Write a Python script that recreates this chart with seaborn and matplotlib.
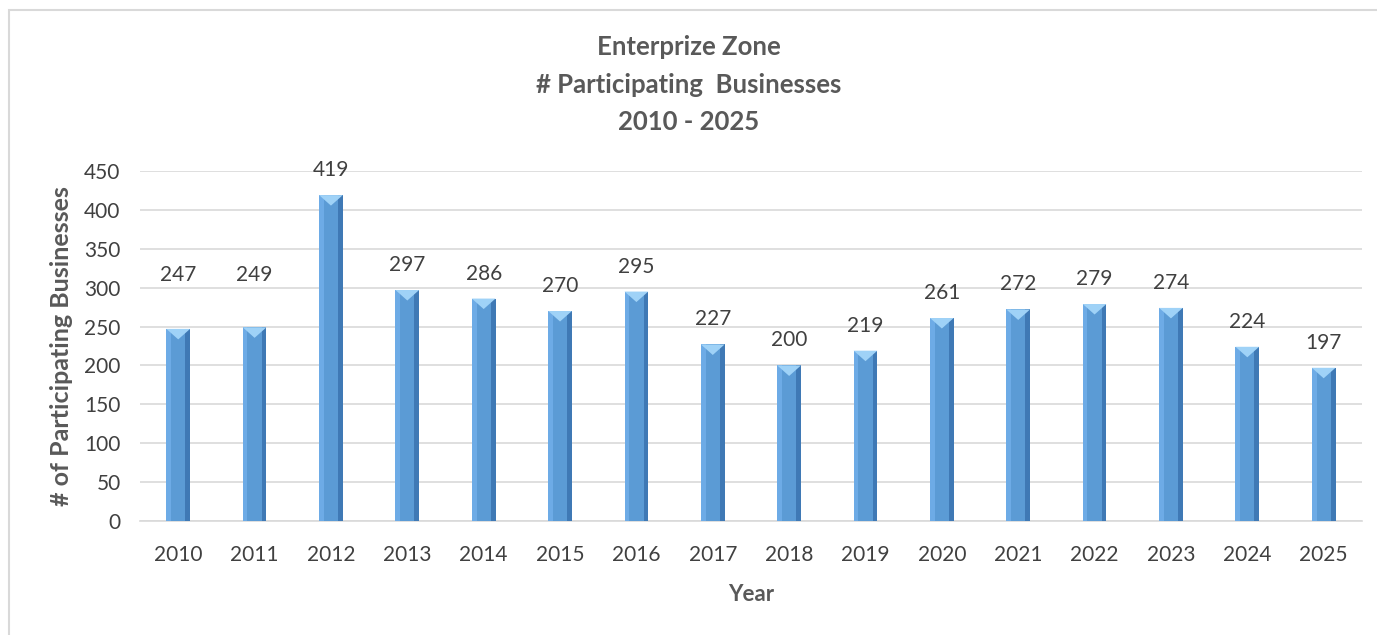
import matplotlib
matplotlib.use("Agg")
import matplotlib.pyplot as plt
import seaborn as sns
import pandas as pd
from matplotlib.patches import Rectangle, Polygon

years = ["2010", "2011", "2012", "2013", "2014", "2015", "2016", "2017",
         "2018", "2019", "2020", "2021", "2022", "2023", "2024", "2025"]
counts = [247, 249, 419, 297, 286, 270, 295, 227, 200, 219, 261, 272, 279, 274, 224, 197]
yticks = [0, 50, 100, 150, 200, 250, 300, 350, 400, 450]

sns.set_theme(style="white")
plt.rcParams['font.family'] = ['Lato', 'DejaVu Sans']

df = pd.DataFrame({"Year": years, "Count": counts})

fig = plt.figure(figsize=(13.77, 6.35), dpi=100)
ax = fig.add_axes([0.1017, 0.1795, 0.8873, 0.5512])

sns.barplot(data=df, x="Year", y="Count", ax=ax, color="#5B9BD5",
            width=0.31, saturation=1, linewidth=0, zorder=3)

ax.set_ylim(0, 450)
ax.set_yticks(yticks)
ax.set_xlim(-0.5, len(years) - 0.5)
ax.grid(axis="y", color="#d9d9d9", linewidth=1.2, zorder=0)
ax.set_axisbelow(True)
for s in ["top", "right", "left"]:
    ax.spines[s].set_visible(False)
ax.spines["bottom"].set_color("#d9d9d9")
ax.spines["bottom"].set_linewidth(1.2)
ax.tick_params(axis="both", length=0, labelsize=15, colors="#404040")
ax.tick_params(axis="y", pad=14)
ax.tick_params(axis="x", pad=17)

ax.set_xlabel("Year", fontsize=16, fontweight="bold", color="#595959", labelpad=14)
ax.set_ylabel("# of Participating Businesses", fontsize=18, fontweight="bold",
              color="#595959", labelpad=8)

# label centre offsets above bar tops (pixels); 2010/2011 labels sit higher
label_offset_px = {"2010": 54, "2011": 52}

for p, yr, v in zip(ax.patches, years, counts):
    x0 = p.get_x(); w = p.get_width(); h = p.get_height()
    ax.add_patch(Rectangle((x0, 0), w * 0.2, h, facecolor="#6DABE6", linewidth=0, zorder=4))
    ax.add_patch(Rectangle((x0 + w * 0.8, 0), w * 0.2, h, facecolor="#3F79B5", linewidth=0, zorder=4))
    tri_h = 450 * 0.03
    ax.add_patch(Polygon([(x0, h), (x0 + w, h), (x0 + w / 2, h - tri_h)], closed=True,
                         facecolor="#9FD2F7", linewidth=0, zorder=5))
    off = label_offset_px.get(yr, 25) * 0.72
    ax.annotate(str(v), (x0 + w / 2, h), xytext=(0, off), textcoords="offset points",
                ha="center", va="center", fontsize=15, color="#404040")

title_lines = ["Enterprize Zone", "# Participating  Businesses", "2010 - 2025"]
for line, ypx in zip(title_lines, [47, 85, 122]):
    fig.text(0.5, 1 - ypx / 635, line, ha="center", va="center",
             fontsize=18.5, fontweight="bold", color="#595959")

fig.patches.append(Rectangle((9 / 1377, -0.01), 1.0, 1 - 10 / 635 + 0.01,
                             transform=fig.transFigure, fill=False,
                             edgecolor="#d9d9d9", linewidth=1.5))

fig.savefig("out.png", dpi=100)
